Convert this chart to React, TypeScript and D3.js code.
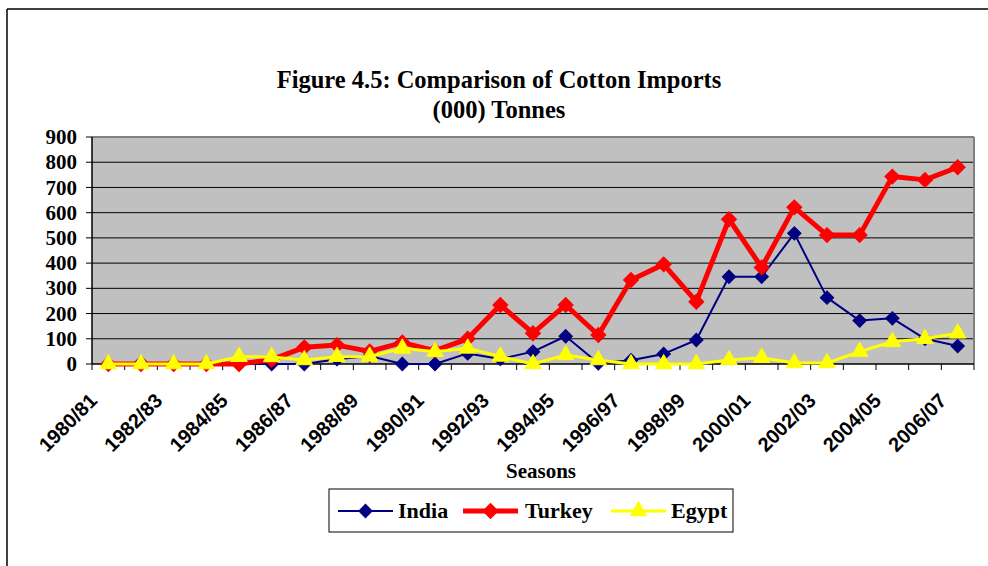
import React from "react";
import * as d3 from "d3";

const seasons = [
  "1980/81","1981/82","1982/83","1983/84","1984/85","1985/86","1986/87","1987/88","1988/89",
  "1989/90","1990/91","1991/92","1992/93","1993/94","1994/95","1995/96","1996/97","1997/98",
  "1998/99","1999/00","2000/01","2001/02","2002/03","2003/04","2004/05","2005/06","2006/07",
];
const india = [0,5,0,0,0,0,0,19,32,0,0,42,20,49,110,3,15,40,95,346,346,518,263,172,181,100,71];
const turkey = [0,0,0,0,0,17,66,75,50,85,53,100,234,122,234,115,333,395,247,574,383,621,511,511,743,730,780];
const egypt = [0,0,0,0,29,28,16,29,30,62,49,62,30,0,36,16,0,0,0,16,25,4,4,49,88,100,122];
const yTicks = [0,100,200,300,400,500,600,700,800,900];

const W = 988, H = 566;
const left = 92, right = 974, top = 137, bottom = 364;

const series = [
  { name: "India", values: india, color: "#000080", width: 2, marker: "diamond", msize: 90 },
  { name: "Turkey", values: turkey, color: "#FF0000", width: 5, marker: "diamond", msize: 112 },
  { name: "Egypt", values: egypt, color: "#FFFF00", width: 3, marker: "triangle", msize: 118 },
];

export default function App() {
  const x = d3.scaleBand<string>().domain(seasons).range([left, right]).padding(0);
  const bw = x.bandwidth();
  const cx = (s: string) => (x(s) as number) + bw / 2;
  const y = d3.scaleLinear().domain([0, 900]).range([bottom, top]);

  const serif = "'Liberation Serif', 'Times New Roman', serif";
  const sans = "'Liberation Sans', Arial, sans-serif";

  const markerPath = (m: string, size: number) =>
    m === "diamond"
      ? (d3.symbol().type(d3.symbolSquare).size(size)() as string)
      : (d3.symbol().type(d3.symbolTriangle).size(size)() as string);
  const markerRot = (m: string) => (m === "diamond" ? " rotate(45)" : "");

  const line = d3
    .line<number>()
    .x((_, i) => cx(seasons[i]))
    .y((d) => y(d));

  const boundaries = d3.range(seasons.length + 1).map((i) => left + i * bw);

  const legendItems = [
    { lx: 338, tx: 398 },
    { lx: 463, tx: 525 },
    { lx: 611, tx: 671 },
  ];

  return (
    <svg width={W} height={H} style={{ position: "absolute", left: 0, top: 0, background: "#fff" }}>
      {/* outer frame */}
      <line x1={7} y1={9} x2={W} y2={9} stroke="#000" strokeWidth={1.5} />
      <line x1={7} y1={9} x2={7} y2={H} stroke="#000" strokeWidth={1.5} />

      {/* title */}
      <text x={499} y={88} textAnchor="middle" fontFamily={serif} fontWeight="bold" fontSize={24.5}>
        Figure 4.5: Comparison of Cotton Imports
      </text>
      <text x={499} y={118} textAnchor="middle" fontFamily={serif} fontWeight="bold" fontSize={24.5}>
        (000) Tonnes
      </text>

      {/* plot area */}
      <rect x={left} y={top} width={right - left} height={bottom - top} fill="#C0C0C0" />
      {yTicks.filter((t) => t > 0).map((t) => (
        <line key={t} x1={left} x2={right} y1={y(t)} y2={y(t)} stroke="#000" strokeWidth={1} />
      ))}
      <line x1={left} x2={right} y1={top} y2={top} stroke="#808080" strokeWidth={2} />
      <line x1={right} x2={right} y1={top} y2={bottom} stroke="#808080" strokeWidth={2} />

      {/* y axis */}
      <line x1={left} x2={left} y1={top} y2={bottom} stroke="#000" strokeWidth={1.5} />
      {yTicks.map((t) => (
        <g key={t}>
          <line x1={left - 6} x2={left} y1={y(t)} y2={y(t)} stroke="#000" strokeWidth={1} />
          <text x={77} y={y(t)} dy="0.34em" textAnchor="end" fontFamily={serif} fontWeight="bold" fontSize={21}>
            {t}
          </text>
        </g>
      ))}

      {/* x axis */}
      <line x1={left} x2={right} y1={bottom} y2={bottom} stroke="#000" strokeWidth={1.5} />
      {boundaries.map((b, i) => (
        <line key={i} x1={b} x2={b} y1={bottom} y2={bottom + 6} stroke="#000" strokeWidth={1} />
      ))}
      {seasons.map((s, i) =>
        i % 2 === 0 ? (
          <text
            key={s}
            transform={`translate(${cx(s) - 10},402) rotate(-45)`}
            textAnchor="end"
            fontFamily={sans}
            fontWeight="bold"
            fontSize={20}
          >
            {s}
          </text>
        ) : null
      )}
      <text x={541} y={478} textAnchor="middle" fontFamily={serif} fontWeight="bold" fontSize={21}>
        Seasons
      </text>

      {/* series */}
      {series.map((se) => (
        <g key={se.name}>
          <path d={line(se.values) as string} fill="none" stroke={se.color} strokeWidth={se.width} strokeLinejoin="round" />
          {se.values.map((v, i) => (
            <path
              key={i}
              d={markerPath(se.marker, se.msize)}
              transform={`translate(${cx(seasons[i])},${y(v)})${markerRot(se.marker)}`}
              fill={se.color}
              stroke={se.color}
              strokeWidth={1}
            />
          ))}
        </g>
      ))}

      {/* legend */}
      <rect x={329} y={489} width={404} height={43} fill="#fff" stroke="#000" strokeWidth={1} />
      {series.map((se, k) => {
        const it = legendItems[k];
        return (
          <g key={se.name}>
            <line x1={it.lx} x2={it.lx + 55} y1={511} y2={511} stroke={se.color} strokeWidth={se.width} />
            <path
              d={markerPath(se.marker, se.msize)}
              transform={`translate(${it.lx + 27.5},511)${markerRot(se.marker)}`}
              fill={se.color}
              stroke={se.color}
              strokeWidth={1}
            />
            <text x={it.tx} y={518} fontFamily={serif} fontWeight="bold" fontSize={22}>
              {se.name}
            </text>
          </g>
        );
      })}
    </svg>
  );
}
